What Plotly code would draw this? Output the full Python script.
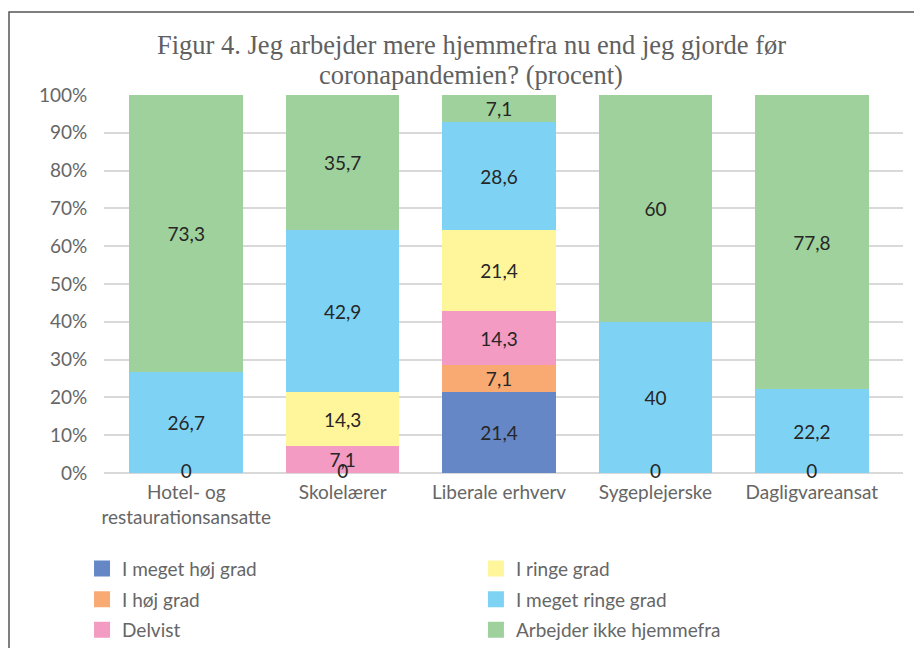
import plotly.graph_objects as go

categories = ["Hotel- og<br>restaurationsansatte", "Skolelærer", "Liberale erhverv",
              "Sygeplejerske", "Dagligvareansat"]

meget_hoj = [0, 0, 21.4, 0, 0]
hoj = [None, None, 7.1, None, None]
delvist = [None, 7.1, 14.3, None, None]
ringe = [None, 14.3, 21.4, None, None]
meget_ringe = [26.7, 42.9, 28.6, 40, 22.2]
ikke_hjemme = [73.3, 35.7, 7.1, 60, 77.8]

title_lines = ["Figur 4. Jeg arbejder mere hjemmefra nu end jeg gjorde før",
               "coronapandemien? (procent)"]

series = [
    ("I meget høj grad", meget_hoj, "rgb(101,135,198)", "legend"),
    ("I høj grad", hoj, "rgb(249,170,114)", "legend"),
    ("Delvist", delvist, "rgb(243,155,195)", "legend"),
    ("I ringe grad", ringe, "rgb(255,246,155)", "legend2"),
    ("I meget ringe grad", meget_ringe, "rgb(126,211,245)", "legend2"),
    ("Arbejder ikke hjemmefra", ikke_hjemme, "rgb(158,209,155)", "legend2"),
]


def fmt(v):
    if v is None or v == 0:
        return ""
    return f"{v:g}".replace(".", ",")


label_font = dict(family="Lato", size=19, color="#262626")
grey = "#666666"

fig = go.Figure()
for name, vals, color, leg in series:
    fig.add_trace(go.Bar(
        x=categories, y=vals, name=name,
        marker=dict(color=color, line=dict(width=0)),
        text=[fmt(v) for v in vals],
        textposition="inside", insidetextanchor="middle",
        constraintext="none", textfont=label_font,
        showlegend=False, hoverinfo="skip",
    ))

# zero labels shown by the first series at the baseline
zero_x = [c for c, v in zip(categories, meget_hoj) if v == 0]
zero_y = [v for v in meget_hoj if v == 0]
fig.add_trace(go.Scatter(
    x=zero_x, y=zero_y, mode="text", text=["0"] * len(zero_x),
    textposition="middle center", textfont=label_font,
    showlegend=False, cliponaxis=False, hoverinfo="skip",
))

# legend entries (bigger square swatches)
for name, vals, color, leg in series:
    fig.add_trace(go.Scatter(
        x=[None], y=[None], mode="markers", name=name, legend=leg,
        legendgroup=name,
        marker=dict(symbol="square", size=22, color=color),
    ))

legend_style = dict(
    orientation="v", yanchor="top", xanchor="left", traceorder="grouped",
    font=dict(family="Lato", size=19, color=grey),
    bgcolor="rgba(0,0,0,0)", itemsizing="trace", tracegroupgap=3,
)

# page body adds ~8px offset, so the figure is sized to the visible area
fig.update_layout(
    width=914, height=640,
    barmode="stack", bargap=0.274,
    paper_bgcolor="white", plot_bgcolor="white",
    margin=dict(l=96, r=19, t=87, b=175, autoexpand=False),
    legend=dict(x=-0.0275, y=-0.2026, **legend_style),
    legend2=dict(x=0.4655, y=-0.2026, **legend_style),
    xaxis=dict(
        type="category", range=[-0.526, 4.583],
        showgrid=False, showline=False, zeroline=False,
        automargin=False,
        ticks="outside", ticklen=2, tickcolor="rgba(0,0,0,0)",
        tickfont=dict(family="Lato", size=19, color=grey),
    ),
    yaxis=dict(
        range=[0, 100], dtick=10, ticksuffix="%", automargin=False,
        gridcolor="#D9D9D9", gridwidth=1.5,
        zeroline=True, zerolinecolor="#D9D9D9", zerolinewidth=1.5,
        showline=False, ticks="outside", ticklen=12, tickcolor="rgba(0,0,0,0)",
        tickfont=dict(family="Lato", size=19, color=grey),
    ),
    shapes=[dict(
        type="rect", xref="paper", yref="paper",
        x0=(1 - 96) / 799, x1=(940 - 96) / 799,
        y0=(465 - 700) / 378, y1=(465 - 4) / 378,
        line=dict(color="#555555", width=1.5), fillcolor="rgba(0,0,0,0)",
        layer="below",
    )],
)

for text, ypos in zip(title_lines, [1.1323, 1.0529]):
    fig.add_annotation(
        text=text, xref="paper", yref="paper", x=(463 - 96) / 799, y=ypos,
        xanchor="center", yanchor="middle", showarrow=False,
        font=dict(family="Liberation Serif", size=26.5, color="#606060"),
    )

fig.write_html("out.html")
